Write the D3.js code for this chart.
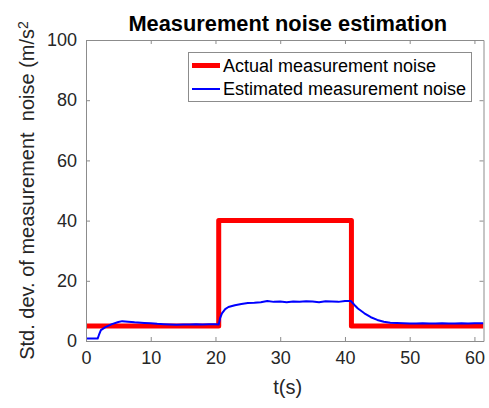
<!DOCTYPE html>
<html><head><meta charset="utf-8">
<script src="https://cdn.jsdelivr.net/npm/d3@7"></script>
<style>
body{margin:0;background:#fff;}
svg{display:block;font-family:"Liberation Sans",Arial,sans-serif;}
</style></head>
<body>
<svg id="chart" width="489" height="408"></svg>
<script>
// ---- data ----
const xTicks = [0,10,20,30,40,50,60];
const yTicks = [0,20,40,60,80,100];
const actualT = [0, 20.5, 20.5, 41, 41, 61.4];
const actualV = [5, 5, 40, 40, 5, 5];
const estT = [0,1,1.8,2.0,2.3,3,4,5,5.6,6.5,7.5,9,10,11,12,13,14,15,16,17,18,19,20,20.5,20.7,21,21.5,22,23,24,25,26,27,28,29,30,31,32,33,34,35,36,37,38,39,40,40.9,41.5,42,43,44,45,46,47,48,49,50,51,52,53,54,55,56,57,58,59,60,61.4];
const estV = [0.8,0.8,0.8,2.0,3.6,4.6,5.6,6.3,6.6,6.4,6.2,6.0,5.9,5.7,5.6,5.5,5.4,5.5,5.5,5.6,5.5,5.6,5.6,5.5,7.5,9.2,10.6,11.3,11.9,12.3,12.6,12.7,12.9,13.3,13.0,13.1,12.9,13.1,13.0,13.2,13.1,12.9,13.2,13.1,13.0,13.3,13.3,11.9,10.8,9.2,7.9,7.0,6.4,6.1,6.0,5.9,5.8,5.8,5.9,5.8,5.8,5.9,5.8,5.8,5.9,5.8,5.9,5.9];
const seriesNames = ["Actual measurement noise","Estimated measurement noise"];
const seriesColors = ["#ff0000","#0000ff"];
const xDomain = [0, 61.4];
const yDomain = [0, 100];

// ---- layout ----
const L = 86, R = 483.5, T = 40, B = 341;
const svg = d3.select("#chart");
const x = d3.scaleLinear().domain(xDomain).range([L, R]);
const y = d3.scaleLinear().domain(yDomain).range([B, T]);
const axisCol = "#8c8c8c", textCol = "#262626";

// lines (clipped)
svg.append("clipPath").attr("id","clip").append("rect")
  .attr("x",L).attr("y",T).attr("width",R-L).attr("height",B-T);
const line = d3.line().x(d=>x(d[0])).y(d=>y(d[1]));
const g = svg.append("g").attr("clip-path","url(#clip)");
g.append("path").datum(actualT.map((t,i)=>[t,actualV[i]]))
  .attr("d",line).attr("fill","none").attr("stroke",seriesColors[0])
  .attr("stroke-width",5).attr("stroke-linejoin","round");
g.append("path").datum(estT.map((t,i)=>[t,estV[i]]))
  .attr("d",line).attr("fill","none").attr("stroke",seriesColors[1])
  .attr("stroke-width",2).attr("stroke-linejoin","round");

// axes
function styleAxis(sel, labels){
  sel.select(".domain").attr("stroke",axisCol);
  sel.selectAll(".tick line").attr("stroke",axisCol);
  sel.selectAll(".tick text").attr("fill",textCol).style("font-size", labels ? "18px" : "0px");
}
const xa = svg.append("g").attr("transform",`translate(0,${B})`)
  .call(d3.axisBottom(x).tickValues(xTicks).tickSizeInner(-4).tickSizeOuter(0).tickPadding(10));
styleAxis(xa,true);
const xt = svg.append("g").attr("transform",`translate(0,${T})`)
  .call(d3.axisTop(x).tickValues(xTicks).tickSizeInner(-4).tickSizeOuter(0).tickFormat(""));
styleAxis(xt,false);
const ya = svg.append("g").attr("transform",`translate(${L},0)`)
  .call(d3.axisLeft(y).tickValues(yTicks).tickSizeInner(-4).tickSizeOuter(0).tickPadding(9));
styleAxis(ya,true);
const yr = svg.append("g").attr("transform",`translate(${R},0)`)
  .call(d3.axisRight(y).tickValues(yTicks).tickSizeInner(-4).tickSizeOuter(0).tickFormat(""));
styleAxis(yr,false);
xa.selectAll(".tick text").attr("dy","0.71em");

// title
svg.append("text").attr("x",(L+R)/2+3).attr("y",31).attr("text-anchor","middle")
  .attr("fill","#000").style("font-size","21.8px").style("font-weight","bold")
  .text("Measurement noise estimation");
// x label
svg.append("text").attr("x",(L+R)/2+3).attr("y",394).attr("text-anchor","middle")
  .attr("fill",textCol).style("font-size","20px").text("t(s)");
// y label
const yl = svg.append("text").attr("transform",`translate(34,${(T+B)/2}) rotate(-90)`)
  .attr("text-anchor","middle").attr("fill",textCol).style("font-size","20px")
  .style("white-space","pre");
yl.append("tspan").text("Std. dev. of measurement  noise (m/s");
yl.append("tspan").attr("dy","-0.45em").style("font-size","14px").text("2");

// legend
const lg = svg.append("g");
lg.append("rect").attr("x",188.5).attr("y",52.5).attr("width",283).attr("height",49)
  .attr("fill","#fff").attr("stroke",axisCol).attr("stroke-width",1);
seriesNames.forEach((n,i)=>{
  const yy = 65.5 + i*23.5;
  lg.append("line").attr("x1",192).attr("x2",220).attr("y1",yy).attr("y2",yy)
    .attr("stroke",seriesColors[i]).attr("stroke-width", i===0?5:2);
  lg.append("text").attr("x",223).attr("y",yy).attr("dy","0.35em")
    .attr("fill","#000").style("font-size","18px").text(n);
});
</script>
</body></html>
